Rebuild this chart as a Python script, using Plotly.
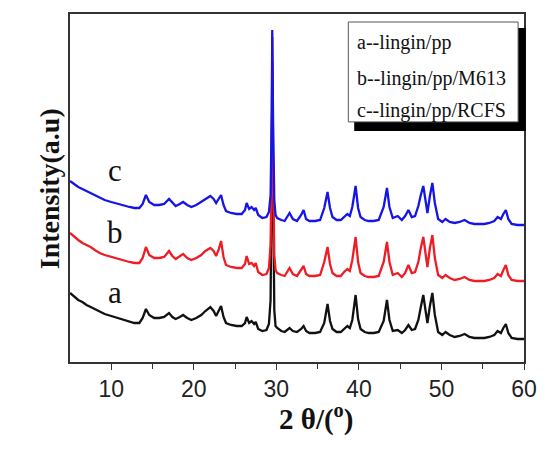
import plotly.graph_objects as go

# 2theta values (degrees)
two_theta = [5.0,5.5,6.0,6.5,7.0,7.5,8.0,8.6,9.2,10.0,10.8,11.5,12.2,12.8,13.4,13.8,14.2,14.6,15.2,15.8,
             16.4,17.0,17.4,17.8,18.3,18.7,19.2,19.7,20.3,20.9,21.4,22.0,22.4,22.7,23.0,23.3,23.6,23.9,24.5,25.2,
             25.8,26.2,26.4,26.7,27.0,27.3,27.5,27.8,28.3,28.8,29.1,29.3,29.45,29.5,29.6,29.75,29.9,30.1,30.6,31.0,
             31.6,32.0,32.5,33.0,33.3,33.6,34.0,34.7,35.3,35.8,36.2,36.5,36.8,37.3,37.8,38.2,38.6,38.9,39.2,39.6,
             39.9,40.2,40.7,41.2,41.8,42.4,43.0,43.4,43.7,44.1,44.7,45.2,45.6,46.0,46.4,46.8,47.2,47.5,47.8,48.1,
             48.3,48.6,48.9,49.2,49.6,50.1,50.5,51.0,51.6,52.2,52.8,53.4,54.0,54.6,55.2,55.8,56.4,56.8,57.2,57.5,
             57.8,58.1,58.5,59.2,60.0]

# a -- lingin/pp (black)
int_a = [69,65,62,60,57,55,53,50,48,46,44,42,40,39,39,44,53,47,44,44,
         45,49,45,43,45,47,44,42,44,47,51,55,51,46,51,56,45,39,37,36,
         36,39,45,39,41,38,40,33,31,32,38,62,212,300,182,52,36,34,31,30,
         34,31,30,33,36,31,29,29,30,39,58,41,33,30,30,33,36,34,42,67,
         43,33,30,29,29,30,41,62,42,31,32,29,32,37,32,33,42,55,67,50,
         39,56,69,47,30,27,30,27,25,26,28,25,24,24,24,25,27,31,29,34,
         38,29,24,23,23]

# b -- lingin/pp/M613 (red)
int_b = [129,125,122,119,117,115,112,109,107,105,103,102,100,99,99,104,115,107,104,104,
         105,111,106,103,106,108,104,102,104,107,111,114,111,106,112,121,105,97,95,94,
         94,98,106,98,99,96,99,90,87,88,94,117,212,325,202,107,92,89,87,86,
         94,88,86,92,96,88,86,86,87,100,115,98,89,86,86,90,93,91,102,125,
         100,89,86,85,85,86,100,120,100,87,89,85,89,97,89,90,100,114,125,107,
         95,114,127,104,87,84,87,84,82,83,85,82,81,81,81,82,84,88,86,92,
         97,87,82,81,81]

# c -- lingin/pp/RCFS (blue)
int_c = [181,178,175,173,171,169,167,164,162,160,158,156,155,154,154,158,167,160,157,157,
         158,163,159,156,158,160,157,155,157,160,163,166,163,159,163,167,157,151,149,148,
         148,152,159,153,155,152,154,147,144,145,150,167,252,332,242,162,147,144,142,141,
         149,143,141,147,152,143,141,141,142,154,170,154,145,142,142,145,148,146,155,176,
         154,145,142,141,141,142,155,174,155,144,146,142,146,152,145,146,156,167,176,160,
         149,166,179,159,143,140,143,140,139,140,142,139,138,138,138,139,141,145,143,148,
         152,143,138,137,137]

series_names = ["a--lingin/pp", "b--lingin/pp/M613", "c--lingin/pp/RCFS"]
series_colors = ["#111111", "#ee1c24", "#1515e6"]
curve_labels = ["a", "b", "c"]
label_x = [10.4, 10.4, 10.4]
label_y = [70, 130, 192]

serif = "Liberation Serif, Times New Roman, serif"
sans = "Liberation Sans, Arial, sans-serif"

fig = go.Figure()
for ys, col, nm in zip([int_a, int_b, int_c], series_colors, series_names):
    fig.add_trace(go.Scatter(x=two_theta, y=ys, mode="lines", name=nm,
                             line=dict(color=col, width=2.3), showlegend=False))

annotations = []
for lab, lx, ly in zip(curve_labels, label_x, label_y):
    annotations.append(dict(x=lx, y=ly, xref="x", yref="y", text=lab, showarrow=False,
                            font=dict(family=serif, size=31, color="#111")))

# legend texts
leg_y = [0.917, 0.816, 0.724]
for nm, ly in zip(series_names, leg_y):
    annotations.append(dict(x=0.627, y=ly, xref="paper", yref="paper", text=nm, showarrow=False,
                            xanchor="left", yanchor="middle",
                            font=dict(family=serif, size=20, color="#111")))

annotations.append(dict(x=-0.085, y=0.499, xref="paper", yref="paper",
                        text="<b>Intensity(a.u)</b>", textangle=-90, showarrow=False,
                        font=dict(family=serif, size=28, color="#111")))
annotations.append(dict(x=0.542, y=-0.217, xref="paper", yref="paper",
                        text="<b>2 θ/(<sup>o</sup>)</b>", showarrow=False,
                        font=dict(family=serif, size=29, color="#111")))

shapes = [
    dict(type="rect", xref="paper", yref="paper", x0=0.626, x1=1.004, y0=0.664, y1=0.960,
         fillcolor="#000", line=dict(width=0)),
    dict(type="rect", xref="paper", yref="paper", x0=0.613, x1=0.987, y0=0.690, y1=0.977,
         fillcolor="white", line=dict(color="#555", width=1)),
]

fig.update_layout(
    width=549, height=453,
    margin=dict(l=70, r=19, t=14, b=91),
    plot_bgcolor="white", paper_bgcolor="white",
    annotations=annotations, shapes=shapes,
    xaxis=dict(range=[5, 60], tickvals=[10, 20, 30, 40, 50, 60], ticks="outside", ticklen=6,
               tickwidth=1.3, tickcolor="#333", showline=True, linecolor="#333", linewidth=1.6,
               mirror=True, showgrid=False, zeroline=False,
               minor=dict(tickvals=[15, 25, 35, 45, 55], ticks="outside", ticklen=5, tickwidth=1.3, tickcolor="#333"),
               tickfont=dict(family=sans, size=23, color="#222")),
    yaxis=dict(range=[0, 348], showticklabels=False, ticks="", showline=True, linecolor="#333",
               linewidth=1.6, mirror=True, showgrid=False, zeroline=False),
)

fig.write_html("out.html")
